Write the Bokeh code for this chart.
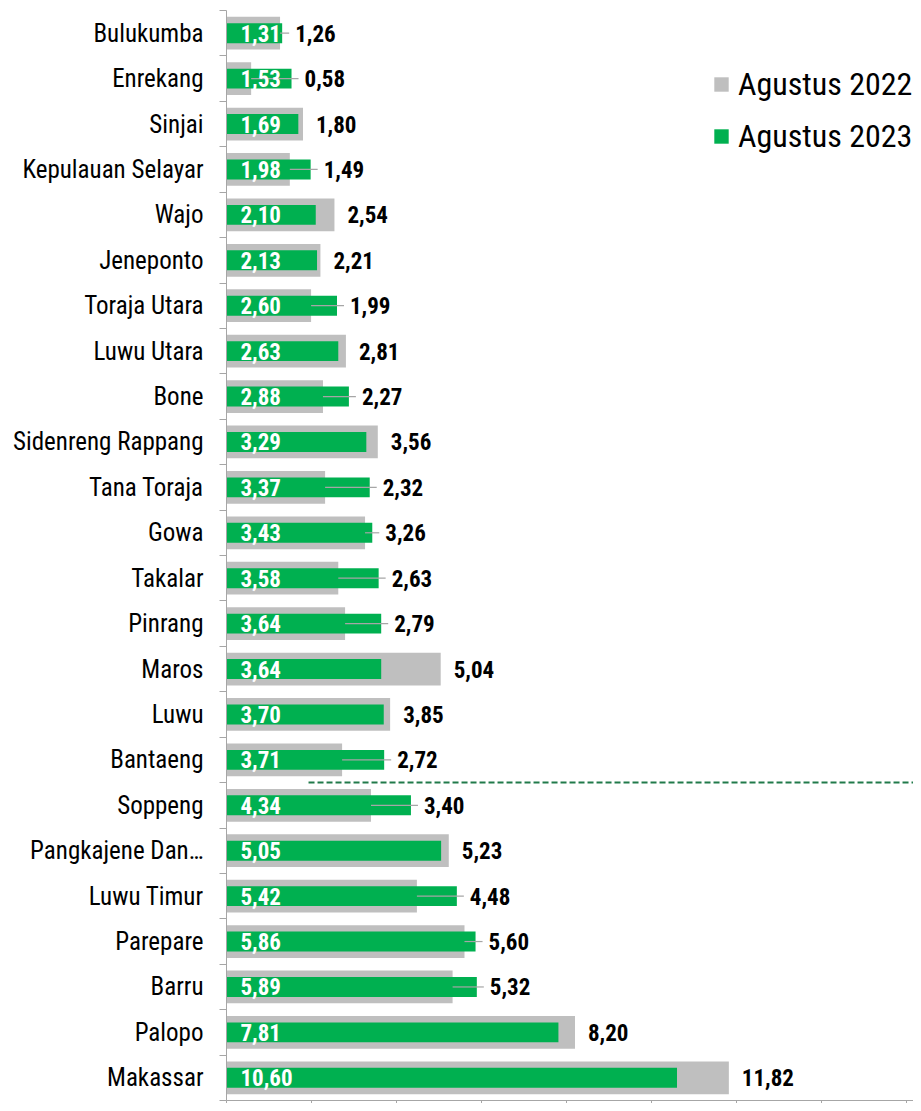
from bokeh.plotting import figure
from bokeh.models import (ColumnDataSource, Range1d, FixedTicker, Legend, LegendItem,
                          CustomJSTickFormatter)
from bokeh.core.properties import value
from bokeh.embed import file_html
from bokeh.resources import INLINE

categories = ["Bulukumba", "Enrekang", "Sinjai", "Kepulauan Selayar", "Wajo", "Jeneponto",
              "Toraja Utara", "Luwu Utara", "Bone", "Sidenreng Rappang", "Tana Toraja", "Gowa",
              "Takalar", "Pinrang", "Maros", "Luwu", "Bantaeng", "Soppeng", "Pangkajene Dan\u2026",
              "Luwu Timur", "Parepare", "Barru", "Palopo", "Makassar"]
agustus_2023 = [1.31, 1.53, 1.69, 1.98, 2.10, 2.13, 2.60, 2.63, 2.88, 3.29, 3.37, 3.43,
                3.58, 3.64, 3.64, 3.70, 3.71, 4.34, 5.05, 5.42, 5.86, 5.89, 7.81, 10.60]
agustus_2022 = [1.26, 0.58, 1.80, 1.49, 2.54, 2.21, 1.99, 2.81, 2.27, 3.56, 2.32, 3.26,
                2.63, 2.79, 5.04, 3.85, 2.72, 3.40, 5.23, 4.48, 5.60, 5.32, 8.20, 11.82]
x_ticks = [0, 2, 4, 6, 8, 10, 12, 14, 16]
ref_line_after = "Bantaeng"   # dashed separator drawn below this category
ref_line_start = 1.93

FONT = "'Roboto Condensed', 'DejaVu Sans Condensed', sans-serif"
W, H = 913, 1103
LEFT, TOP, BOTTOM_AXIS = 226, 10, 3
FRAME_W = W - LEFT
FRAME_H = H - TOP - BOTTOM_AXIS
XMAX = FRAME_W / 42.5
PX = XMAX / FRAME_W  # data units per pixel

n = len(categories)
ys = [n - 1 - i for i in range(n)]

def fmt(v):
    return f"{v:.2f}".replace(".", ",")

right_end = [max(a, b) for a, b in zip(agustus_2022, agustus_2023)]
src = ColumnDataSource(dict(
    y=ys, cat=categories, v22=agustus_2022, v23=agustus_2023,
    l22=[fmt(v) for v in agustus_2022], l23=[fmt(v) for v in agustus_2023],
    xlab=right_end, zero=[0] * n,
))
lead_rows = [i for i in range(n) if agustus_2022[i] < agustus_2023[i]]
lead = ColumnDataSource(dict(
    x0=[agustus_2022[i] for i in lead_rows],
    x1=[agustus_2023[i] + 7 * PX for i in lead_rows],
    y=[ys[i] for i in lead_rows],
))

p = figure(width=W, height=H,
           x_range=Range1d(0, XMAX), y_range=Range1d(-0.5, n - 0.5),
           output_backend="svg", toolbar_location=None,
           min_border_left=LEFT, min_border_right=0, min_border_top=TOP, min_border_bottom=0)
p.outline_line_color = None
p.xgrid.visible = False
p.ygrid.visible = False
p.background_fill_color = "white"
p.border_fill_color = "white"

r22 = p.hbar(y="y", left=0, right="v22", height=0.72, source=src,
             fill_color="#BFBFBF", line_color=None)
r23 = p.hbar(y="y", left=0, right="v23", height=0.44, source=src,
             fill_color="#00B050", line_color=None)

p.segment(x0="x0", y0="y", x1="x1", y1="y", source=lead, line_color="#A6A6A6", line_width=1.2)

p.text(x="zero", y="y", text="l23", source=src, x_offset=14, text_align="left",
       text_baseline="middle", text_color="white", text_font=value(FONT),
       text_font_size="23px", text_font_style="bold")
p.text(x="xlab", y="y", text="l22", source=src, x_offset=13, text_align="left",
       text_baseline="middle", text_color="black", text_font=value(FONT),
       text_font_size="23px", text_font_style="bold")

ref_y = ys[categories.index(ref_line_after)] - 0.5
p.segment(x0=[ref_line_start], y0=[ref_y], x1=[XMAX], y1=[ref_y],
          line_color="#217A4A", line_width=2, line_dash="6 3")

# y axis
ya = p.yaxis[0]
ya.ticker = FixedTicker(ticks=ys, minor_ticks=[k - 0.5 for k in range(n + 1)])
ya.major_label_overrides = {y: c for y, c in zip(ys, categories)}
ya.major_tick_out = 0
ya.major_tick_in = 0
ya.minor_tick_out = 7
ya.minor_tick_in = 0
ya.minor_tick_line_color = "#A6A6A6"
ya.axis_line_color = "#A6A6A6"
ya.major_label_standoff = 16
ya.major_label_text_font = FONT
ya.major_label_text_font_size = "25px"
ya.major_label_text_color = "black"

xa = p.xaxis[0]
xa.ticker = FixedTicker(ticks=x_ticks, minor_ticks=[])
xa.formatter = CustomJSTickFormatter(code="return ''")
xa.major_label_text_font_size = "0px"
xa.major_label_standoff = 0
xa.major_tick_out = BOTTOM_AXIS
xa.major_tick_in = 0
xa.major_tick_line_color = "#A6A6A6"
xa.axis_line_color = "#A6A6A6"

legend = Legend(items=[LegendItem(label="Agustus 2022", renderers=[r22]),
                       LegendItem(label="Agustus 2023", renderers=[r23])],
                location=(486, FRAME_H + TOP - 155), orientation="vertical",
                glyph_width=18, glyph_height=18, label_standoff=8,
                label_text_font=FONT, label_text_font_size="32px", label_text_color="black",
                label_height=38, spacing=14, padding=0, margin=0,
                border_line_color=None, background_fill_alpha=0)
p.add_layout(legend)

open("out.html", "w").write(file_html(p, INLINE))
